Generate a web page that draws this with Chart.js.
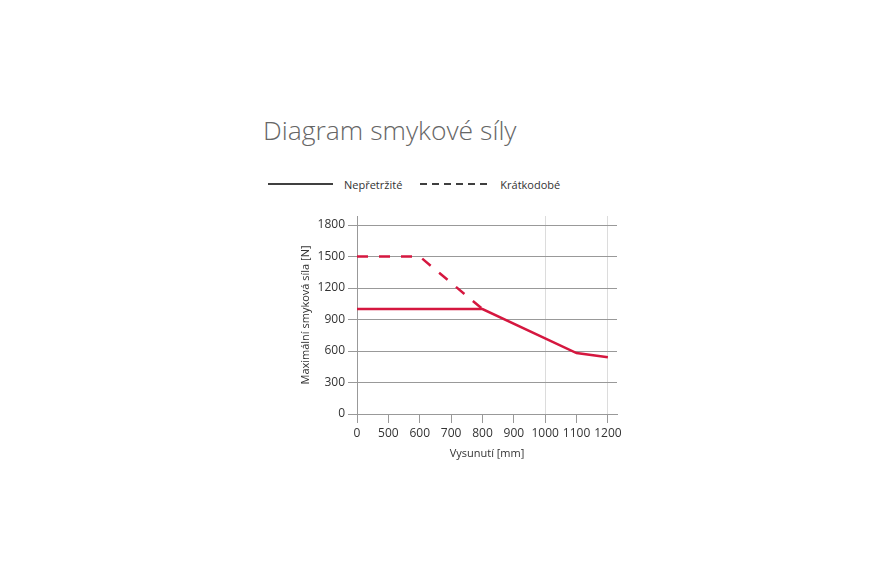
<!DOCTYPE html>
<html>
<head>
<meta charset="utf-8">
<script src="https://cdn.jsdelivr.net/npm/chart.js@4/dist/chart.umd.min.js"></script>
<style>
  html, body { margin: 0; padding: 0; background: #fff; }
  body { width: 885px; height: 575px; position: relative; overflow: hidden; font-family: "Open Sans", sans-serif; }
  #title { position: absolute; left: 263px; top: 112px; font-size: 26.5px; font-weight: 300; color: #666; white-space: nowrap; }
  #legend { position: absolute; left: 268px; top: 175px; font-size: 11px; color: #333; display: flex; align-items: center; }
  #legend svg { display: block; }
  #wrap { position: absolute; left: 290px; top: 205px; width: 345px; height: 259px; }
</style>
</head>
<body>
<div id="title">Diagram smykové síly</div>
<div id="legend">
  <svg width="66" height="18"><line x1="0" y1="9" x2="65" y2="9" stroke="#000" stroke-width="1.5"/></svg>
  <span style="margin-left:10px">Nepřetržité</span>
  <svg width="70" height="18" style="margin-left:18px"><line x1="0" y1="9" x2="68" y2="9" stroke="#000" stroke-width="1.5" stroke-dasharray="7 5"/></svg>
  <span style="margin-left:10px">Krátkodobé</span>
</div>
<div id="wrap"><canvas id="chart"></canvas></div>
<script>
const xLabels = ['0', '500', '600', '700', '800', '900', '1000', '1100', '1200'];
const yTicks  = [0, 300, 600, 900, 1200, 1500, 1800];

// Nepřetržité (continuous)
const contMm = [0, 800, 1100, 1200];
const contN  = [1000, 1000, 580, 540];

// Krátkodobé (short-term)
const shortMm = [0, 600, 800];
const shortN  = [1500, 1500, 1000];

const RED = '#d5173f';
const idx = (mm) => xLabels.indexOf(String(mm));

const chart = new Chart(document.getElementById('chart').getContext('2d'), {
  type: 'line',
  data: {
    datasets: [
      {
        label: 'Nepřetržité',
        data: contMm.map((mm, i) => ({ x: idx(mm), y: contN[i] })),
        borderColor: RED,
        borderWidth: 2.5,
        pointRadius: 0,
        tension: 0,
      },
      {
        label: 'Krátkodobé',
        data: shortMm.map((mm, i) => ({ x: idx(mm), y: shortN[i] })),
        borderColor: RED,
        borderWidth: 2.5,
        borderDash: [11, 11],
        pointRadius: 0,
        tension: 0,
      },
    ],
  },
  options: {
    responsive: true,
    maintainAspectRatio: false,
    animation: false,
    layout: { padding: { top: 11, right: 18, bottom: 0, left: 0 } },
    plugins: { legend: { display: false }, tooltip: { enabled: false } },
    scales: {
      x: {
        type: 'linear',
        min: 0,
        max: 8.29,
        afterBuildTicks: (s) => { s.ticks = xLabels.map((_, i) => ({ value: i })); },
        afterFit: (s) => { s.height = 50; },
        ticks: {
          callback: (v) => xLabels[v],
          color: '#333',
          font: { family: 'Open Sans', size: 12 },
          padding: 3,
          maxRotation: 0,
          autoSkip: false,
        },
        grid: {
          color: (ctx) => (ctx.tick && (xLabels[ctx.tick.value] === '1000' || xLabels[ctx.tick.value] === '1200')) ? '#dcdcdc' : 'rgba(0,0,0,0)',
          tickColor: '#999',
          tickLength: 9,
        },
        border: { color: '#999' },
        title: {
          display: true,
          text: 'Vysunutí [mm]',
          color: '#333',
          font: { family: 'Open Sans', size: 11 },
          padding: { top: 4, bottom: 4 },
        },
      },
      y: {
        min: 0,
        max: 1886,
        afterBuildTicks: (s) => { s.ticks = yTicks.map(v => ({ value: v })); },
        afterFit: (s) => { s.width = 67; },
        ticks: {
          callback: (v) => String(v),
          color: '#333',
          font: { family: 'Open Sans', size: 12 },
          padding: 3,
        },
        grid: { color: '#999', tickColor: '#999', tickLength: 9 },
        border: { color: '#999' },
        title: {
          display: true,
          text: 'Maximální smyková síla [N]',
          color: '#333',
          font: { family: 'Open Sans', size: 11 },
          padding: { top: 9, bottom: 0 },
        },
      },
    },
  },
});
</script>
</body>
</html>
